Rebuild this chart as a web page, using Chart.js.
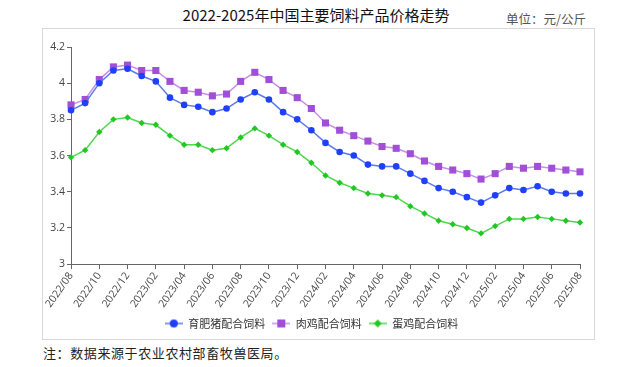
<!DOCTYPE html>
<html>
<head>
<meta charset="utf-8">
<script src="https://cdn.jsdelivr.net/npm/chart.js@4.4.1/dist/chart.umd.min.js"></script>
<style>
  body { margin: 0; width: 632px; height: 367px; background: #fff; position: relative; overflow: hidden;
         font-family: "Noto Sans CJK SC", "Noto Sans", sans-serif; }
  #title { position: absolute; top: 4px; left: 0; width: 632px; text-align: center; font-size: 15px; color: #111; }
  #unit { position: absolute; top: 9px; left: 506px; font-size: 12.5px; color: #555; }
  #box { position: absolute; left: 42px; top: 28px; width: 551px; height: 310px; border: 1px solid #d8d8d8; }
  #note { position: absolute; left: 43px; top: 343px; font-size: 13px; letter-spacing: 0.6px; color: #222; }
</style>
</head>
<body>
<div id="title">2022-2025年中国主要饲料产品价格走势</div>
<div id="unit">单位：元/公斤</div>
<div id="box"><canvas id="feedChart" width="551" height="310"></canvas></div>
<div id="note">注：数据来源于农业农村部畜牧兽医局。</div>
<script>
// Monthly prices, 2022/08 - 2025/08 (yuan/kg)
const months = [
    '2022/08', '2022/09', '2022/10', '2022/11', '2022/12',
    '2023/01', '2023/02', '2023/03', '2023/04', '2023/05', '2023/06', '2023/07', '2023/08', '2023/09', '2023/10', '2023/11', '2023/12',
    '2024/01', '2024/02', '2024/03', '2024/04', '2024/05', '2024/06', '2024/07', '2024/08', '2024/09', '2024/10', '2024/11', '2024/12',
    '2025/01', '2025/02', '2025/03', '2025/04', '2025/05', '2025/06', '2025/07', '2025/08'
];
const seriesNames = ['育肥猪配合饲料', '肉鸡配合饲料', '蛋鸡配合饲料'];
const pigFeed = [3.85, 3.89, 4.00, 4.07, 4.08, 4.04, 4.01, 3.92, 3.88, 3.87, 3.84, 3.86, 3.91, 3.95, 3.91, 3.84, 3.80,
    3.74, 3.67, 3.62, 3.60, 3.55, 3.54, 3.54, 3.50, 3.46, 3.42, 3.40, 3.37, 3.34, 3.38, 3.42, 3.41, 3.43, 3.40, 3.39, 3.39];
const broilerFeed = [3.88, 3.91, 4.02, 4.09, 4.10, 4.07, 4.07, 4.01, 3.96, 3.95, 3.93, 3.94, 4.01, 4.06, 4.02, 3.96, 3.92,
    3.86, 3.78, 3.74, 3.71, 3.68, 3.65, 3.64, 3.61, 3.57, 3.54, 3.52, 3.50, 3.47, 3.50, 3.54, 3.53, 3.54, 3.53, 3.52, 3.51];
const layerFeed = [3.59, 3.63, 3.73, 3.80, 3.81, 3.78, 3.77, 3.71, 3.66, 3.66, 3.63, 3.64, 3.70, 3.75, 3.71, 3.66, 3.62,
    3.56, 3.49, 3.45, 3.42, 3.39, 3.38, 3.37, 3.32, 3.28, 3.24, 3.22, 3.20, 3.17, 3.21, 3.25, 3.25, 3.26, 3.25, 3.24, 3.23];

// legend icon: short line with the marker in the middle
function legendIcon(lineColor, fill, shape) {
    const c = document.createElement('canvas');
    c.width = 18; c.height = 10;
    const g = c.getContext('2d');
    g.strokeStyle = lineColor; g.lineWidth = 1.5;
    g.beginPath(); g.moveTo(0, 5); g.lineTo(18, 5); g.stroke();
    g.fillStyle = fill;
    g.beginPath();
    if (shape === 'circle') g.arc(9, 5, 4, 0, Math.PI * 2);
    else if (shape === 'rect') g.rect(5, 1, 8, 8);
    else { g.moveTo(9, 1); g.lineTo(13, 5); g.lineTo(9, 9); g.lineTo(5, 5); g.closePath(); }
    g.fill();
    return c;
}

const styles = [
    { line: '#5a78f0', fill: '#1f3ff8', shape: 'circle', radius: 3.3 },
    { line: '#c68ee6', fill: '#a24fd8', shape: 'rect', radius: 5 },
    { line: '#4cd84c', fill: '#22c822', shape: 'rectRot', radius: 3.2 }
];
const icons = styles.map(s => legendIcon(s.line, s.fill, s.shape === 'rectRot' ? 'diamond' : s.shape));

const ctx = document.getElementById('feedChart').getContext('2d');
const feedChart = new Chart(ctx, {
    type: 'line',
    data: {
        labels: months,
        datasets: [pigFeed, broilerFeed, layerFeed].map((d, i) => ({
            label: seriesNames[i],
            data: d,
            borderColor: styles[i].line,
            borderWidth: 1.5,
            pointStyle: styles[i].shape,
            pointRadius: styles[i].radius,
            pointBackgroundColor: styles[i].fill,
            pointBorderColor: styles[i].fill,
            pointBorderWidth: 0,
            tension: 0
        }))
    },
    options: {
        responsive: false,
        animation: false,
        layout: { padding: { top: 18, right: 14, left: 0, bottom: 0 } },
        plugins: {
            legend: {
                position: 'bottom',
                labels: {
                    usePointStyle: true,
                    pointStyleWidth: 18,
                    padding: 7,
                    color: '#333',
                    font: { family: '"Noto Sans CJK SC", sans-serif', size: 11 },
                    generateLabels: chart => Chart.defaults.plugins.legend.labels.generateLabels(chart)
                        .map((item, i) => Object.assign(item, { pointStyle: icons[i] }))
                }
            },
            tooltip: { enabled: false }
        },
        scales: {
            x: {
                afterBuildTicks: axis => { axis.ticks = axis.ticks.filter(t => t.value % 2 === 0); },
                grid: { drawOnChartArea: false, drawTicks: true, tickLength: 5, color: '#666' },
                border: { color: '#666', width: 1 },
                ticks: {
                    autoSkip: false, minRotation: 55, maxRotation: 55, padding: 1,
                    color: '#444', font: { family: '"Open Sans", sans-serif', size: 10.5 }
                }
            },
            y: {
                min: 3, max: 4.2,
                afterFit: axis => { axis.width = 28; },
                grid: { drawOnChartArea: false, drawTicks: true, tickLength: 4, color: '#666' },
                border: { color: '#666', width: 1 },
                ticks: {
                    stepSize: 0.2, padding: 2, color: '#444',
                    font: { family: '"Open Sans", sans-serif', size: 10.5 },
                    callback: v => String(+v.toFixed(1))
                }
            }
        }
    }
});
</script>
</body>
</html>
